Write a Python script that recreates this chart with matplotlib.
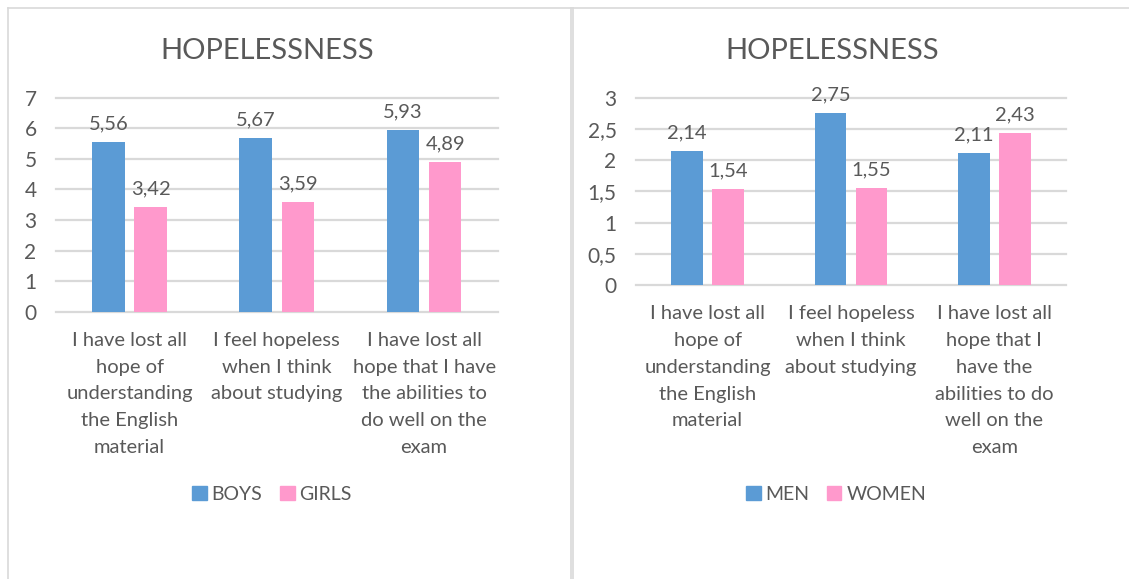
import matplotlib
matplotlib.use("Agg")
import matplotlib.pyplot as plt
import matplotlib.patches as mpatches
from matplotlib.lines import Line2D
import numpy as np

plt.rcParams["font.family"] = ["Lato", "DejaVu Sans"]

TEXT = "#595959"
GRID = "#D9D9D9"
BLUE = "#5B9BD5"
PINK = "#FF99CC"

# left chart
cats_left = ["I have lost all\nhope of\nunderstanding\nthe English\nmaterial",
             "I feel hopeless\nwhen I think\nabout studying",
             "I have lost all\nhope that I have\nthe abilities to\ndo well on the\nexam"]
boys = [5.56, 5.67, 5.93]
girls = [3.42, 3.59, 4.89]
ticks_left = [0, 1, 2, 3, 4, 5, 6, 7]
ticklabels_left = ["0", "1", "2", "3", "4", "5", "6", "7"]

# right chart
cats_right = ["I have lost all\nhope of\nunderstanding\nthe English\nmaterial",
              "I feel hopeless\nwhen I think\nabout studying",
              "I have lost all\nhope that I\nhave the\nabilities to do\nwell on the\nexam"]
men = [2.14, 2.75, 2.11]
women = [1.54, 1.55, 2.43]
ticks_right = [0, 0.5, 1, 1.5, 2, 2.5, 3]
ticklabels_right = ["0", "0,5", "1", "1,5", "2", "2,5", "3"]


def fmt(v):
    return f"{v:.2f}".replace(".", ",")


def draw(ax, cats, s1, s2, ticks, ticklabels):
    x = np.arange(len(cats))
    w = 0.222
    off = 0.143
    b1 = ax.bar(x - off, s1, w, color=BLUE, zorder=3)
    b2 = ax.bar(x + off, s2, w, color=PINK, zorder=3)
    for bars, vals in ((b1, s1), (b2, s2)):
        for b, v in zip(bars, vals):
            ax.annotate(fmt(v), (b.get_x() + b.get_width() / 2, v),
                        xytext=(0, 7), textcoords="offset points",
                        ha="center", va="bottom", fontsize=14.5, color=TEXT)
    ax.set_xlim(-0.5, len(cats) - 0.5)
    ax.set_ylim(ticks[0], ticks[-1])
    ax.set_yticks(ticks)
    ax.set_yticklabels(ticklabels)
    ax.set_xticks(x)
    ax.set_xticklabels(cats, linespacing=1.7)
    for sp in ax.spines.values():
        sp.set_visible(False)
    ax.yaxis.grid(True, color=GRID, linewidth=1.6, zorder=0)
    ax.set_axisbelow(True)
    ax.tick_params(axis="y", length=0, pad=14, labelsize=15, labelcolor=TEXT)
    ax.tick_params(axis="x", length=0, pad=14.5, labelsize=14.5, labelcolor=TEXT)
    for gl in ax.get_ygridlines():
        gl.set_clip_on(False)


fig = plt.figure(figsize=(11.29, 5.79), dpi=100)

ax1 = fig.add_axes([56 / 1129, 1 - 311.7 / 579, 441.7 / 1129, 214 / 579])
draw(ax1, cats_left, boys, girls, ticks_left, ticklabels_left)
ax2 = fig.add_axes([636 / 1129, 1 - 285 / 579, 430 / 1129, 187.3 / 579])
draw(ax2, cats_right, men, women, ticks_right, ticklabels_right)

fig.text(266.7 / 1129, 1 - 51 / 579, "HOPELESSNESS", ha="center", va="center",
         fontsize=21, color=TEXT)
fig.text(832.6 / 1129, 1 - 51 / 579, "HOPELESSNESS", ha="center", va="center",
         fontsize=21, color=TEXT)

# legends
for names, cx in ((["BOYS", "GIRLS"], 272), (["MEN", "WOMEN"], 836)):
    handles = [mpatches.Patch(color=BLUE, label=names[0]),
               mpatches.Patch(color=PINK, label=names[1])]
    fig.legend(handles=handles, loc="center", ncol=2, frameon=False,
               bbox_to_anchor=(cx / 1129, 1 - 494 / 579), fontsize=14,
               handlelength=0.75, handleheight=0.75, handletextpad=0.25,
               columnspacing=0.9, labelcolor=TEXT)

# chart borders
bc = "#D9D9D9"
fig.add_artist(Line2D([8 / 1129, 1], [1 - 8 / 579, 1 - 8 / 579], color=bc, lw=1.2))
fig.add_artist(Line2D([8 / 1129, 8 / 1129], [0, 1 - 8 / 579], color=bc, lw=1.2))
fig.add_artist(Line2D([571 / 1129, 571 / 1129], [0, 1 - 8 / 579], color=bc, lw=1.2))
fig.add_artist(Line2D([573 / 1129, 573 / 1129], [0, 1 - 8 / 579], color=bc, lw=1.2))

fig.savefig("out.png", dpi=100)
